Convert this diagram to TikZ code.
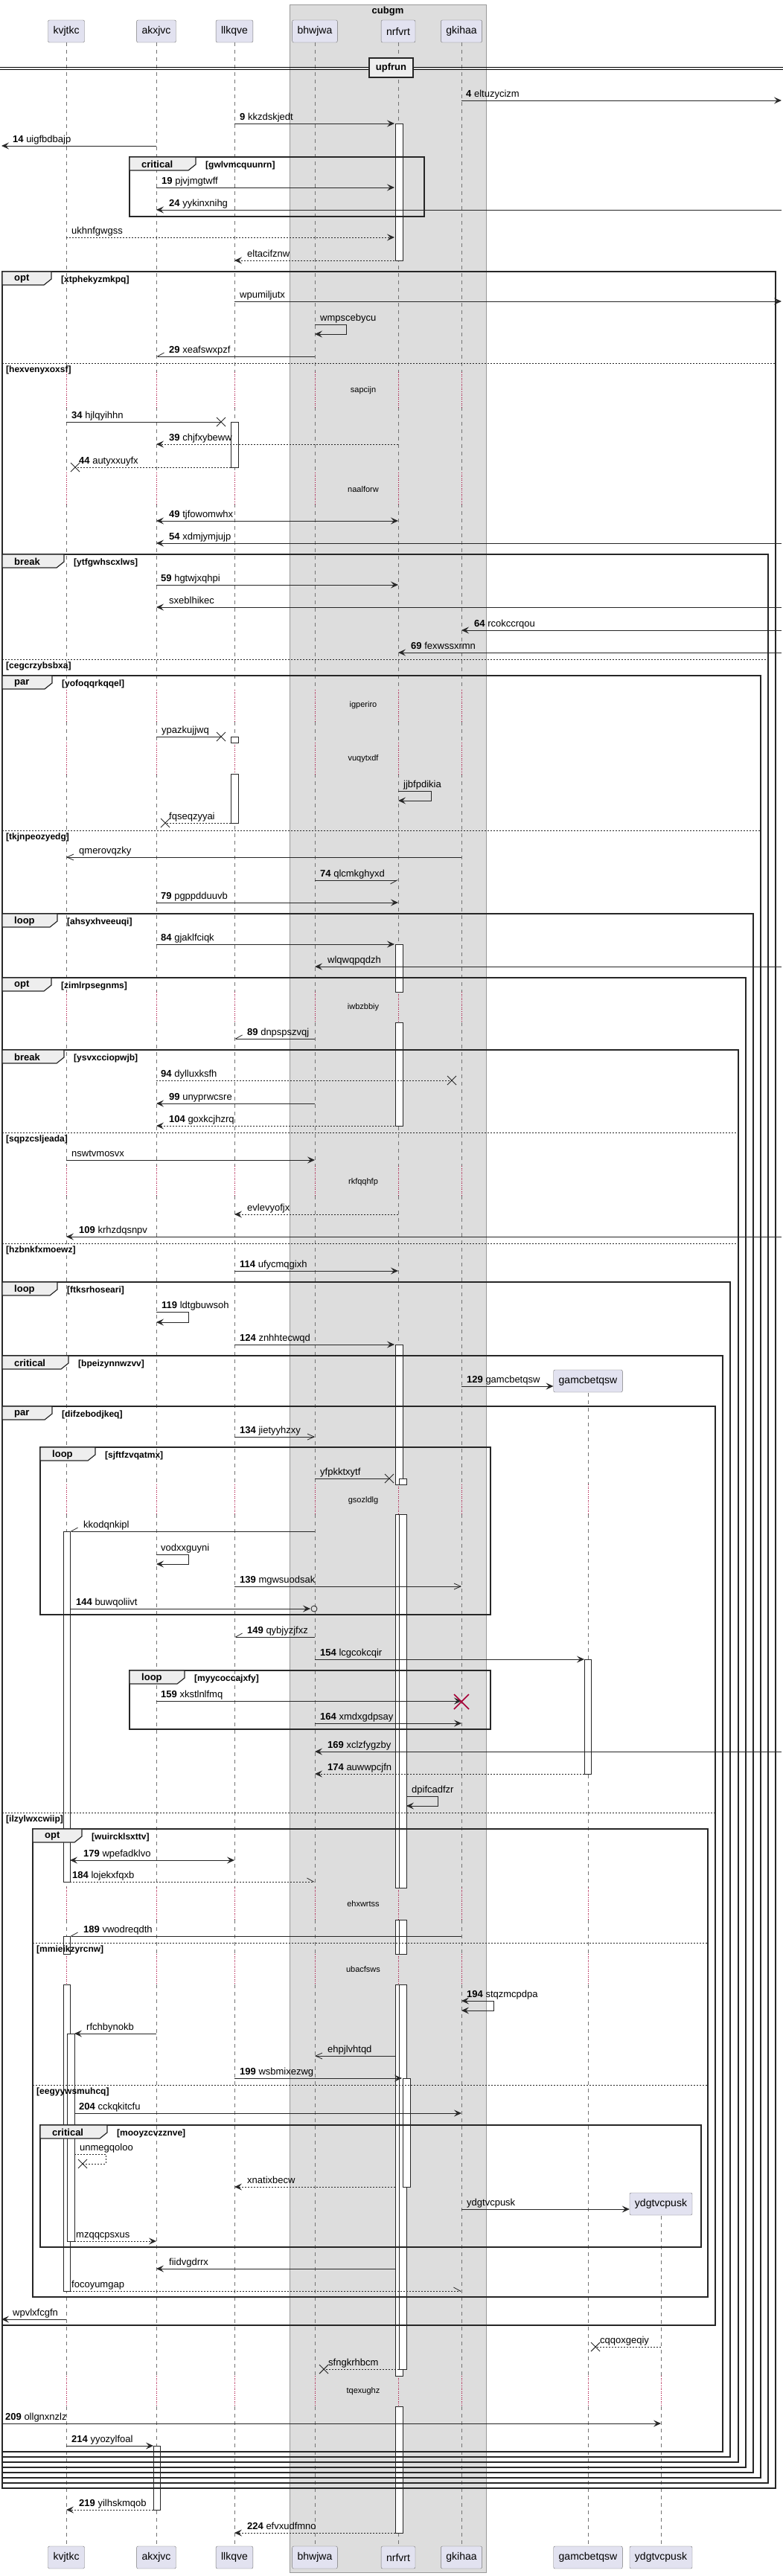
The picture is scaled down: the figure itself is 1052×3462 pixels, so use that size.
\documentclass[tikz,border=0pt]{standalone}
\usepackage{fontspec}
\setmainfont{Liberation Sans}
\usetikzlibrary{arrows.meta}
\definecolor{partfill}{HTML}{E2E2F0}
\definecolor{boxfill}{HTML}{DDDDDD}
\definecolor{tabfill}{HTML}{EEEEEE}
\definecolor{delayred}{HTML}{A80036}
\tikzset{
  partbox/.style={draw=black!55, fill=partfill, rounded corners=2pt, minimum height=30pt, inner xsep=7pt, font=\fontsize{14}{16}\selectfont},
  lifeline/.style={draw=black!55, line width=0.5pt, dash pattern=on 5pt off 5pt},
  delayline/.style={draw=delayred, line width=0.6pt, dotted},
  actbox/.style={draw=black!85, fill=white, line width=0.7pt},
  msg/.style={draw=black!85, line width=0.8pt, ->},
  ret/.style={msg, dash pattern=on 2pt off 2pt},
  twoway/.style={<->},
  notip/.style={-},
  barbtip/.style={arrows={-Straight Barb[length=9pt,width=8pt]}},
  halfl/.style={arrows={-Straight Barb[harpoon,length=9pt,width=10pt]}},
  halfr/.style={arrows={-Straight Barb[harpoon,swap,length=9pt,width=10pt]}},
  ring/.style={draw=black!85, line width=0.8pt},
  lbl/.style={anchor=base west, inner sep=0pt, font=\fontsize{13}{15}\selectfont},
  grpframe/.style={draw=black!85, line width=1.5pt},
  grptab/.style={draw=black!85, line width=1.2pt, fill=tabfill},
  grptitle/.style={anchor=west, inner sep=0pt, font=\fontsize{13}{15}\selectfont\bfseries},
  grpcond/.style={anchor=west, inner sep=0pt, font=\fontsize{12}{14}\selectfont\bfseries},
  elseline/.style={draw=black!85, line width=0.8pt, dash pattern=on 2pt off 2pt},
  delaytxt/.style={inner sep=1pt, font=\fontsize{11}{13}\selectfont},
  lostx/.pic={\draw[line width=1pt, black!85] (-6,-6) -- (6,6) (-6,6) -- (6,-6);},
  destroyx/.pic={\draw[line width=1.5pt, delayred] (-10,-10) -- (10,10) (-10,10) -- (10,-10);}
}
\begin{document}
\begin{tikzpicture}[x=1pt,y=-1pt,>={Stealth[length=10pt,width=9pt,inset=4pt]}]
\useasboundingbox (0,0) rectangle (1052,3462);

% box round the middle participants
\draw[draw=black!40, fill=boxfill] (389,6) rectangle (653,3457);
\node[font=\fontsize{13}{15}\selectfont\bfseries] (cubgm) at (521,15) {cubgm};

% participants, top and foot
\node[partbox] (kvjtkc) at (89,42) {kvjtkc};
\node[partbox] (akxjvc) at (210,42) {akxjvc};
\node[partbox] (llkqve) at (315,42) {llkqve};
\node[partbox] (bhwjwa) at (423,42) {bhwjwa};
\node[partbox] (nrfvrt) at (535,42) {nrfvrt};
\node[partbox] (gkihaa) at (620,42) {gkihaa};
\node[partbox] (gamcbetqsw) at (790,1856) {gamcbetqsw};
\node[partbox] (ydgtvcpusk) at (888,2962) {ydgtvcpusk};
\node[partbox] (kvjtkcF) at (89,3437) {kvjtkc};
\node[partbox] (akxjvcF) at (210,3437) {akxjvc};
\node[partbox] (llkqveF) at (315,3437) {llkqve};
\node[partbox] (bhwjwaF) at (423,3437) {bhwjwa};
\node[partbox] (nrfvrtF) at (535,3437) {nrfvrt};
\node[partbox] (gkihaaF) at (620,3437) {gkihaa};
\node[partbox] (gamcbetqswF) at (790,3437) {gamcbetqsw};
\node[partbox] (ydgtvcpuskF) at (888,3437) {ydgtvcpusk};
\coordinate (rim) at (1050,0);
\coordinate (lrim) at (2,0);

% lifelines, dotted where time is skipped
\foreach \p in {kvjtkc,akxjvc,llkqve,bhwjwa,nrfvrt,gkihaa}{
  \foreach \a/\b in {57/500,547/635,677/927,970/998,1040/1333,1374/1567,1607/1995,2035/2537,2580/2626,2667/3193,3234/3422}
    \draw[lifeline] (\p |- 0,\a) -- (\p |- 0,\b);
  \foreach \a/\b in {500/547,635/677,927/970,998/1040,1333/1374,1567/1607,1995/2035,2537/2580,2626/2667,3193/3234}
    \draw[delayline] (\p |- 0,\a) -- (\p |- 0,\b);
}
\foreach \a/\b in {1872/1995,2035/2537,2580/2626,2667/3193,3234/3422}
  \draw[lifeline] (gamcbetqsw |- 0,\a) -- (gamcbetqsw |- 0,\b);
\foreach \a/\b in {1995/2035,2537/2580,2626/2667,3193/3234}
  \draw[delayline] (gamcbetqsw |- 0,\a) -- (gamcbetqsw |- 0,\b);
\draw[lifeline] (ydgtvcpusk |- 0,2978) -- (ydgtvcpusk |- 0,3193);
\draw[lifeline] (ydgtvcpusk |- 0,3234) -- (ydgtvcpusk |- 0,3422);
\draw[delayline] (ydgtvcpusk |- 0,3193) -- (ydgtvcpusk |- 0,3234);

\foreach \y/\t in {525/sapcijn,658/naalforw,948/igperiro,1020/vuqytxdf,1354/iwbzbbiy,1589/rkfqqhfp,2017/gsozldlg,2559/ehxwrtss,2647/ubacfsws,3214/tqexughz}
  \node[delaytxt] (delay-\t) at (488,\y) {\t};

% activations
\draw[actbox] (531,166) rectangle (541,350);
\draw[actbox] (531,1269) rectangle (541,1333);
\draw[actbox] (531,1374) rectangle (541,1513);
\foreach \a/\b in {1807/1995,2035/2537,2580/2626,2667/3193,3234/3404}
  \draw[actbox] (531,\a) rectangle (541,\b);
\foreach \a/\b in {1987/1995,2035/2537,2580/2626,2667/3184}
  \draw[actbox] (536,\a) rectangle (546,\b);
\draw[actbox] (541,2793) rectangle (551,2939);
\draw[actbox] (310,567) rectangle (320,628);
\draw[actbox] (310,990) rectangle (320,998);
\draw[actbox] (310,1040) rectangle (320,1106);
\draw[actbox] (85,2058) rectangle (94,2529);
\draw[actbox] (85,2602) rectangle (94,2626);
\draw[actbox] (85,2667) rectangle (94,3079);
\draw[actbox] (90,2733) rectangle (100,3012);
\draw[actbox] (785,2230) rectangle (794,2384);
\draw[actbox] (206,3287) rectangle (215,3373);

% groups
\foreach \xa/\ya/\xb/\yb/\tr/\ti/\co in {
  174/211/570/291/263/critical/gwlvmcquunrn,
  3/365/1042/3344/69/opt/xtphekyzmkpq,
  3/745/1032/3337/86/break/ytfgwhscxlws,
  3/908/1022/3330/70/par/yofoqqrkqqel,
  3/1228/1012/3323/77/loop/ahsyxhveeuqi,
  3/1314/1002/3316/69/opt/zimlrpsegnms,
  3/1411/992/3309/86/break/ysvxcciopwjb,
  3/1723/981/3302/77/loop/ftksrhoseari,
  3/1822/971/3295/92/critical/bpeizynnwzvv,
  3/1890/961/3125/70/par/difzebodjkeq,
  54/1945/659/2170/128/loop/sjftfzvqatmx,
  174/2245/659/2324/248/loop/myycoccajxfy,
  44/2458/951/3087/110/opt/wuircklsxttv,
  54/2856/942/3020/144/critical/mooyzcvzznve}{
  \draw[grpframe] (\xa,\ya) rectangle (\xb,\yb);
  \draw[grptab] (\xa,\ya) -- (\tr,\ya) -- (\tr,\ya+10) -- (\tr-10,\ya+18) -- (\xa,\ya+18) -- cycle;
  \node[grptitle] (title-\co) at (\xa+16,\ya+10) {\ti};
  \node[grpcond] (cond-\co) at (\tr+13,\ya+11) {[\co]};
}
\foreach \xa/\xb/\y/\co in {3/1042/488/hexvenyxoxsf,3/1032/886/cegcrzybsbxa,3/1022/1116/tkjnpeozyedg,
  3/992/1522/sqpzcsljeada,3/992/1671/hzbnkfxmoewz,3/961/2436/ilzylwxcwiip,
  44/951/2611/mmieikzyrcnw,44/951/2802/eegyywsmuhcq}{
  \draw[elseline] (\xa,\y) -- (\xb,\y);
  \node[grpcond] (else-\co) at (\xa+5,\y+9) {[\co]};
}

% divider
\draw[line width=0.8pt] (0,90.5) -- (1052,90.5) (0,93.5) -- (1052,93.5);
\node[draw=black!85, line width=1.5pt, fill=tabfill, minimum width=59pt, minimum height=26pt, inner sep=0pt,
  font=\fontsize{13}{15}\selectfont\bfseries] (upfrun) at (525.5,91) {upfrun};

% messages
\draw[msg] (gkihaa |- 0,135) -- (rim |- 0,135);
\node[lbl] (l4) at (626,130) {\textbf{4} eltuzycizm};
\draw[msg] (llkqve |- 0,166) -- ([xshift=-5pt]nrfvrt |- 0,166);
\node[lbl] (l9) at (322,161) {\textbf{9} kkzdskjedt};
\draw[msg] (akxjvc |- 0,196) -- (lrim |- 0,196);
\node[lbl] (l14) at (17,191) {\textbf{14} uigfbdbajp};
\draw[msg] (akxjvc |- 0,252) -- ([xshift=-5pt]nrfvrt |- 0,252);
\node[lbl] (l19) at (217,247) {\textbf{19} pjvjmgtwff};
\draw[msg] (rim |- 0,282) -- (akxjvc |- 0,282);
\node[lbl] (l24) at (227,277) {\textbf{24} yykinxnihg};
\draw[ret] (kvjtkc |- 0,319) -- ([xshift=-5pt]nrfvrt |- 0,319);
\node[lbl] (lukh) at (96,314) {ukhnfgwgss};
\draw[ret] ([xshift=-5pt]nrfvrt |- 0,350) -- (llkqve |- 0,350);
\node[lbl] (lelt) at (332,345) {eltacifznw};
\draw[msg] (llkqve |- 0,405) -- (rim |- 0,405);
\node[lbl] (lwpu) at (322,400) {wpumiljutx};
\draw[msg] (bhwjwa |- 0,436) -- ++(42,0) -- ++(0,13) -- (bhwjwa |- 0,449);
\node[lbl] (lwmp) at (430,431) {wmpscebycu};
\draw[msg,halfr] (bhwjwa |- 0,479) -- (akxjvc |- 0,479);
\node[lbl] (l29) at (227,474) {\textbf{29} xeafswxpzf};
\draw[msg,notip] (kvjtkc |- 0,567) -- ([xshift=-18pt]llkqve |- 0,567);
\pic at ([xshift=-18pt]llkqve |- 0,567) {lostx};
\node[lbl] (l34) at (96,562) {\textbf{34} hjlqyihhn};
\draw[ret] (nrfvrt |- 0,597) -- (akxjvc |- 0,597);
\node[lbl] (l39) at (227,592) {\textbf{39} chjfxybeww};
\draw[ret,notip] ([xshift=-5pt]llkqve |- 0,628) -- ([xshift=12pt]kvjtkc |- 0,628);
\pic at ([xshift=12pt]kvjtkc |- 0,628) {lostx};
\node[lbl] (l44) at (106,623) {\textbf{44} autyxxuyfx};
\draw[msg,twoway] (akxjvc |- 0,700) -- (nrfvrt |- 0,700);
\node[lbl] (l49) at (227,695) {\textbf{49} tjfowomwhx};
\draw[msg] (rim |- 0,730) -- (akxjvc |- 0,730);
\node[lbl] (l54) at (227,725) {\textbf{54} xdmjymjujp};
\draw[msg] (akxjvc |- 0,786) -- (nrfvrt |- 0,786);
\node[lbl] (l59) at (216,781) {\textbf{59} hgtwjxqhpi};
\draw[msg] (rim |- 0,816) -- (akxjvc |- 0,816);
\node[lbl] (lsxe) at (227,811) {sxeblhikec};
\draw[msg] (rim |- 0,847) -- (gkihaa |- 0,847);
\node[lbl] (l64) at (637,842) {\textbf{64} rcokccrqou};
\draw[msg] (rim |- 0,877) -- (nrfvrt |- 0,877);
\node[lbl] (l69) at (552,872) {\textbf{69} fexwssxrmn};
\draw[msg,notip] (akxjvc |- 0,990) -- ([xshift=-18pt]llkqve |- 0,990);
\pic at ([xshift=-18pt]llkqve |- 0,990) {lostx};
\node[lbl] (lypa) at (217,985) {ypazkujjwq};
\draw[msg] (nrfvrt |- 0,1063) -- ++(44,0) -- ++(0,13) -- (nrfvrt |- 0,1076);
\node[lbl] (ljjb) at (542,1058) {jjbfpdikia};
\draw[ret,notip] ([xshift=-5pt]llkqve |- 0,1106) -- ([xshift=12pt]akxjvc |- 0,1106);
\pic at ([xshift=12pt]akxjvc |- 0,1106) {lostx};
\node[lbl] (lfqs) at (227,1101) {fqseqzyyai};
\draw[msg,barbtip] (gkihaa |- 0,1152) -- (kvjtkc |- 0,1152);
\node[lbl] (lqme) at (106,1147) {qmerovqzky};
\draw[msg,halfr] (bhwjwa |- 0,1183) -- (nrfvrt |- 0,1183);
\node[lbl] (l74) at (430,1178) {\textbf{74} qlcmkghyxd};
\draw[msg] (akxjvc |- 0,1213) -- (nrfvrt |- 0,1213);
\node[lbl] (l79) at (216,1208) {\textbf{79} pgppdduuvb};
\draw[msg] (akxjvc |- 0,1269) -- ([xshift=-5pt]nrfvrt |- 0,1269);
\node[lbl] (l84) at (216,1264) {\textbf{84} gjaklfciqk};
\draw[msg] (rim |- 0,1299) -- (bhwjwa |- 0,1299);
\node[lbl] (lwlq) at (440,1294) {wlqwqpqdzh};
\draw[msg,halfr] (bhwjwa |- 0,1396) -- (llkqve |- 0,1396);
\node[lbl] (l89) at (332,1391) {\textbf{89} dnpspszvqj};
\draw[ret,notip] (akxjvc |- 0,1452) -- ([xshift=-13pt]gkihaa |- 0,1452);
\pic at ([xshift=-13pt]gkihaa |- 0,1452) {lostx};
\node[lbl] (l94) at (216,1447) {\textbf{94} dylluxksfh};
\draw[msg] (bhwjwa |- 0,1483) -- (akxjvc |- 0,1483);
\node[lbl] (l99) at (227,1478) {\textbf{99} unyprwcsre};
\draw[ret] ([xshift=-5pt]nrfvrt |- 0,1513) -- (akxjvc |- 0,1513);
\node[lbl] (l104) at (227,1508) {\textbf{104} goxkcjhzrq};
\draw[msg] (kvjtkc |- 0,1559) -- (bhwjwa |- 0,1559);
\node[lbl] (lnsw) at (96,1554) {nswtvmosvx};
\draw[ret] (nrfvrt |- 0,1632) -- (llkqve |- 0,1632);
\node[lbl] (levl) at (332,1627) {evlevyofjx};
\draw[msg] (rim |- 0,1662) -- (kvjtkc |- 0,1662);
\node[lbl] (l109) at (106,1657) {\textbf{109} krhzdqsnpv};
\draw[msg] (llkqve |- 0,1708) -- (nrfvrt |- 0,1708);
\node[lbl] (l114) at (322,1703) {\textbf{114} ufycmqgixh};
\draw[msg] (akxjvc |- 0,1763) -- ++(43,0) -- ++(0,14) -- (akxjvc |- 0,1777);
\node[lbl] (l119) at (217,1758) {\textbf{119} ldtgbuwsoh};
\draw[msg] (llkqve |- 0,1807) -- ([xshift=-5pt]nrfvrt |- 0,1807);
\node[lbl] (l124) at (322,1802) {\textbf{124} znhhtecwqd};
\draw[msg] (gkihaa |- 0,1863) -- (gamcbetqsw.west |- 0,1863);
\node[lbl] (l129) at (627,1858) {\textbf{129} gamcbetqsw};
\draw[msg,barbtip] (llkqve |- 0,1931) -- (bhwjwa |- 0,1931);
\node[lbl] (l134) at (322,1926) {\textbf{134} jietyyhzxy};
\draw[msg,notip] (bhwjwa |- 0,1987) -- ([xshift=-12pt]nrfvrt |- 0,1987);
\pic at ([xshift=-12pt]nrfvrt |- 0,1987) {lostx};
\node[lbl] (lyfp) at (430,1982) {yfpkktxytf};
\draw[msg,halfr] (bhwjwa |- 0,2058) -- ([xshift=5pt]kvjtkc |- 0,2058);
\node[lbl] (lkko) at (112,2053) {kkodqnkipl};
\draw[msg] (akxjvc |- 0,2089) -- ++(43,0) -- ++(0,13) -- (akxjvc |- 0,2102);
\node[lbl] (lvod) at (216,2084) {vodxxguyni};
\draw[msg,barbtip] (llkqve |- 0,2132) -- (gkihaa |- 0,2132);
\node[lbl] (l139) at (322,2127) {\textbf{139} mgwsuodsak};
\draw[msg] ([xshift=5pt]kvjtkc |- 0,2162) -- ([xshift=-6pt]bhwjwa |- 0,2162);
\draw[ring] ([xshift=-1pt]bhwjwa |- 0,2162) circle[radius=4pt];
\node[lbl] (l144) at (102,2157) {\textbf{144} buwqoliivt};
\draw[msg,halfr] (bhwjwa |- 0,2200) -- (llkqve |- 0,2200);
\node[lbl] (l149) at (332,2195) {\textbf{149} qybjyzjfxz};
\draw[msg] (bhwjwa |- 0,2230) -- ([xshift=-5pt]gamcbetqsw |- 0,2230);
\node[lbl] (l154) at (430,2225) {\textbf{154} lcgcokcqir};
\draw[msg] (akxjvc |- 0,2286) -- (gkihaa |- 0,2286);
\pic at (gkihaa |- 0,2287) {destroyx};
\node[lbl] (l159) at (216,2281) {\textbf{159} xkstlnlfmq};
\draw[msg] (bhwjwa |- 0,2316) -- (gkihaa |- 0,2316);
\node[lbl] (l164) at (430,2311) {\textbf{164} xmdxgdpsay};
\draw[msg] (rim |- 0,2354) -- (bhwjwa |- 0,2354);
\node[lbl] (l169) at (440,2349) {\textbf{169} xclzfygzby};
\draw[ret] ([xshift=-5pt]gamcbetqsw |- 0,2384) -- (bhwjwa |- 0,2384);
\node[lbl] (l174) at (440,2379) {\textbf{174} auwwpcjfn};
\draw[msg] ([xshift=11pt]nrfvrt |- 0,2414) -- ++(42,0) -- ++(0,13) -- ([xshift=11pt]nrfvrt |- 0,2427);
\node[lbl] (ldpi) at (553,2409) {dpifcadfzr};
\draw[msg,twoway] ([xshift=5pt]kvjtkc |- 0,2500) -- (llkqve |- 0,2500);
\node[lbl] (l179) at (112,2495) {\textbf{179} wpefadklvo};
\draw[ret,halfl] ([xshift=5pt]kvjtkc |- 0,2529) -- (bhwjwa |- 0,2529);
\node[lbl] (l184) at (97,2524) {\textbf{184} lojekxfqxb};
\draw[msg,halfr] (gkihaa |- 0,2602) -- ([xshift=5pt]kvjtkc |- 0,2602);
\node[lbl] (l189) at (112,2597) {\textbf{189} vwodreqdth};
\draw[msg,twoway] (gkihaa |- 0,2689) -- ++(43,0) -- ++(0,13) -- (gkihaa |- 0,2702);
\node[lbl] (l194) at (627,2684) {\textbf{194} stqzmcpdpa};
\draw[msg] (akxjvc |- 0,2733) -- ([xshift=11pt]kvjtkc |- 0,2733);
\node[lbl] (lrfc) at (116,2728) {rfchbynokb};
\draw[msg,barbtip] ([xshift=-4pt]nrfvrt |- 0,2763) -- (bhwjwa |- 0,2763);
\node[lbl] (lehp) at (440,2758) {ehpjlvhtqd};
\draw[msg] (llkqve |- 0,2793) -- ([xshift=5pt]nrfvrt |- 0,2793);
\node[lbl] (l199) at (322,2788) {\textbf{199} wsbmixezwg};
\draw[msg] ([xshift=11pt]kvjtkc |- 0,2840) -- (gkihaa |- 0,2840);
\node[lbl] (l204) at (106,2835) {\textbf{204} cckqkitcfu};
\draw[ret,notip] ([xshift=11pt]kvjtkc |- 0,2895) -- ++(42,0) -- ++(0,13) -- ([xshift=22pt]kvjtkc |- 0,2908);
\pic at ([xshift=22pt]kvjtkc |- 0,2908) {lostx};
\node[lbl] (lunm) at (107,2890) {unmegqoloo};
\draw[ret] ([xshift=-4pt]nrfvrt |- 0,2939) -- (llkqve |- 0,2939);
\node[lbl] (lxna) at (332,2934) {xnatixbecw};
\draw[msg] (gkihaa |- 0,2969) -- (ydgtvcpusk.west |- 0,2969);
\node[lbl] (lydg) at (627,2964) {ydgtvcpusk};
\draw[ret] ([xshift=11pt]kvjtkc |- 0,3012) -- (akxjvc |- 0,3012);
\node[lbl] (lmzq) at (102,3007) {mzqqcpsxus};
\draw[msg] ([xshift=-4pt]nrfvrt |- 0,3049) -- (akxjvc |- 0,3049);
\node[lbl] (lfii) at (227,3044) {fiidvgdrrx};
\draw[ret,halfl] ([xshift=5pt]kvjtkc |- 0,3079) -- (gkihaa |- 0,3079);
\node[lbl] (lfoc) at (96,3074) {focoyumgap};
\draw[msg] (kvjtkc |- 0,3117) -- (lrim |- 0,3117);
\node[lbl] (lwpv) at (17,3112) {wpvlxfcgfn};
\draw[ret,notip] (ydgtvcpusk |- 0,3154) -- ([xshift=10pt]gamcbetqsw |- 0,3154);
\pic at ([xshift=10pt]gamcbetqsw |- 0,3154) {lostx};
\node[lbl] (lcqq) at (806,3149) {cqqoxgeqiy};
\draw[ret,notip] ([xshift=1pt]nrfvrt |- 0,3184) -- ([xshift=12pt]bhwjwa |- 0,3184);
\pic at ([xshift=12pt]bhwjwa |- 0,3184) {lostx};
\node[lbl] (lsfn) at (441,3179) {sfngkrhbcm};
\draw[msg] (lrim |- 0,3257) -- (ydgtvcpusk |- 0,3257);
\node[lbl] (l209) at (7,3252) {\textbf{209} ollgnxnzlz};
\draw[msg] (kvjtkc |- 0,3287) -- ([xshift=-4pt]akxjvc |- 0,3287);
\node[lbl] (l214) at (96,3282) {\textbf{214} yyozylfoal};
\draw[ret] ([xshift=-4pt]akxjvc |- 0,3373) -- (kvjtkc |- 0,3373);
\node[lbl] (l219) at (106,3368) {\textbf{219} yilhskmqob};
\draw[ret] ([xshift=-4pt]nrfvrt |- 0,3404) -- (llkqve |- 0,3404);
\node[lbl] (l224) at (332,3399) {\textbf{224} efvxudfmno};
\end{tikzpicture}
\end{document}
